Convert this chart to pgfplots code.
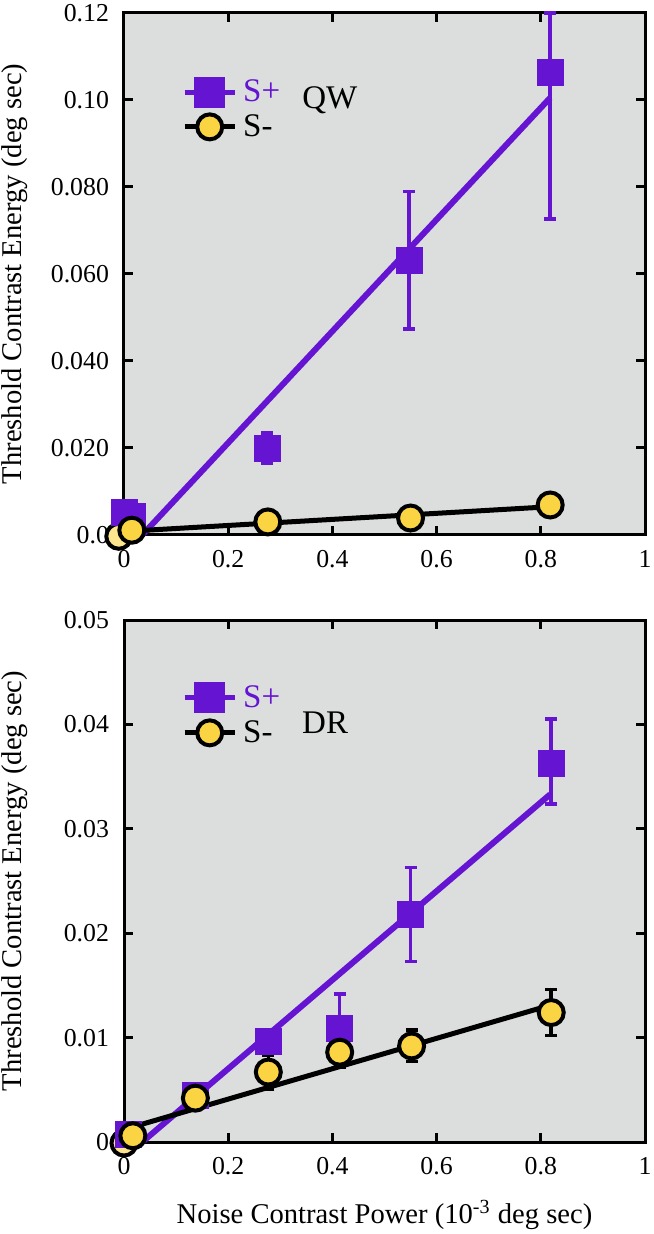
\documentclass[border=0pt]{standalone}
\usepackage{fontspec}
\setmainfont{Liberation Serif}
\usepackage{pgfplots}
\pgfplotsset{compat=1.18}

\definecolor{splus}{RGB}{101,20,210}
\definecolor{sminus}{RGB}{251,212,68}
\definecolor{panel}{RGB}{220,221,221}

\pgfplotsset{
  panel/.style={
    scale only axis, width=260.5pt, height=261pt,
    xmin=0, xmax=1,
    xtick={0,0.2,0.4,0.6,0.8,1},
    xticklabels={0,0.2,0.4,0.6,0.8,1},
    scaled ticks=false,
    axis background/.style={fill=panel},
    axis line style={line width=1.5pt},
    tick align=inside, major tick length=4.5pt,
    tick style={line width=1.5pt, black},
    ticklabel style={font=\fontsize{12.9}{15}\selectfont},
    yticklabel style={xshift=-4pt},
    xticklabel style={yshift=-4pt},
    label style={font=\fontsize{14.3}{17}\selectfont},
    ylabel={Threshold Contrast Energy (deg sec)},
    ylabel style={at={(axis description cs:-0.209,0.5)}, anchor=center},
    clip=false,
    legend style={draw=none, fill=none, anchor=north west,
      font=\fontsize{16.5}{19}\selectfont,
      inner sep=0pt, nodes={inner sep=1pt}, row sep=3pt, column sep=2pt},
    legend cell align=left,
    legend image code/.code={\draw[mark repeat=2, mark phase=2]
      plot coordinates {(0pt,0pt) (12.5pt,0pt) (25pt,0pt)};},
  },
  fitp/.style={splus, line width=3pt, forget plot},
  fitm/.style={black, line width=2.5pt, forget plot},
  sqr/.style={only marks, forget plot, mark=square*, mark size=6.5pt,
    mark options={splus, fill=splus},
    error bars/.cd, y dir=both, y explicit,
    error bar style={line width=1.8pt, splus},
    error mark options={rotate=90, mark size=3pt, line width=1.8pt, splus}},
  circ/.style={only marks, forget plot, mark=*, mark size=6.25pt,
    mark options={draw=black, fill=sminus, line width=2pt},
    error bars/.cd, y dir=both, y explicit,
    error bar style={line width=1.8pt, black},
    error mark options={rotate=90, mark size=3pt, line width=1.8pt, black}},
}

\begin{document}
\begin{tikzpicture}

% QW
\begin{axis}[panel,
  ymin=0, ymax=0.12,
  ytick={0,0.02,0.04,0.06,0.08,0.1,0.12},
  yticklabels={0.0,0.020,0.040,0.060,0.080,0.10,0.12},
  legend style={at={(axis description cs:0.111,0.877)}},
]
\addplot[only marks, forget plot, mark=*, mark size=6.25pt,
  mark options={draw=black, fill=sminus!60!white, line width=2pt}]
  coordinates {(-0.01,-0.0003)};
\addplot[fitp] coordinates {(0.035,0) (0.818,0.1005)};
\addplot[fitm] coordinates {(0,0.0008) (0.818,0.0065)};
\addplot[sqr] coordinates {
  (0.0,0.0052) +- (0,0)
  (0.016,0.0042) +- (0,0)
  (0.275,0.0200) +- (0,0.0034)
  (0.547,0.0632) +- (0,0.0158)
  (0.818,0.1064) += (0,0.0136) -= (0,0.0338)
};
\addplot[circ] coordinates {
  (0.015,0.0011) +- (0,0)
  (0.276,0.0030) +- (0,0)
  (0.550,0.0039) +- (0,0)
  (0.818,0.0069) +- (0,0)
};
\addlegendimage{splus, line width=2.5pt, mark=square*, mark size=6.5pt}
\addlegendentry{\textcolor{splus}{S+}}
\addlegendimage{black, line width=2.5pt, mark=*, mark size=6.25pt,
  mark options={fill=sminus, line width=2pt}}
\addlegendentry{S-}
\node[font=\fontsize{16.5}{19}\selectfont] at (axis cs:0.395,0.1) {QW};
\end{axis}

% DR
\begin{axis}[panel, at={(0,-303.5pt)},
  ymin=0, ymax=0.05,
  ytick={0,0.01,0.02,0.03,0.04,0.05},
  yticklabels={0,0.01,0.02,0.03,0.04,0.05},
  xlabel={Noise Contrast Power (10\textsuperscript{-3} deg sec)},
  xlabel style={at={(axis description cs:0.5,-0.14)}, anchor=center},
  legend style={at={(axis description cs:0.111,0.879)}},
]
\addplot[only marks, forget plot, mark=*, mark size=6.25pt,
  mark options={draw=black, fill=sminus!60!white, line width=2pt}]
  coordinates {(0.0,-0.0001)};
\addplot[fitp] coordinates {(0.035,0) (0.818,0.0333)};
\addplot[fitm] coordinates {(0,0.0012) (0.818,0.0131)};
\addplot[sqr] coordinates {
  (0.008,0.0007) +- (0,0)
  (0.137,0.0045) +- (0,0)
  (0.277,0.0096) +- (0,0.0005)
  (0.414,0.0109) +- (0,0.0033)
  (0.55,0.0218) +- (0,0.0045)
  (0.82,0.0363) += (0,0.0042) -= (0,0.0039)
};
\addplot[circ] coordinates {
  (0.017,0.0006) +- (0,0)
  (0.137,0.0042) +- (0,0)
  (0.277,0.0067) +- (0,0.0016)
  (0.414,0.0086) +- (0,0.0014)
  (0.552,0.0092) +- (0,0.0015)
  (0.82,0.0124) +- (0,0.0022)
};
\addlegendimage{splus, line width=2.5pt, mark=square*, mark size=6.5pt}
\addlegendentry{\textcolor{splus}{S+}}
\addlegendimage{black, line width=2.5pt, mark=*, mark size=6.25pt,
  mark options={fill=sminus, line width=2pt}}
\addlegendentry{S-}
\node[font=\fontsize{16.5}{19}\selectfont] at (axis cs:0.386,0.0402) {DR};
\end{axis}

\pgfresetboundingbox
\path[use as bounding box] (-62pt,-349.5pt) rectangle (264.5pt,267.5pt);
\end{tikzpicture}
\end{document}
